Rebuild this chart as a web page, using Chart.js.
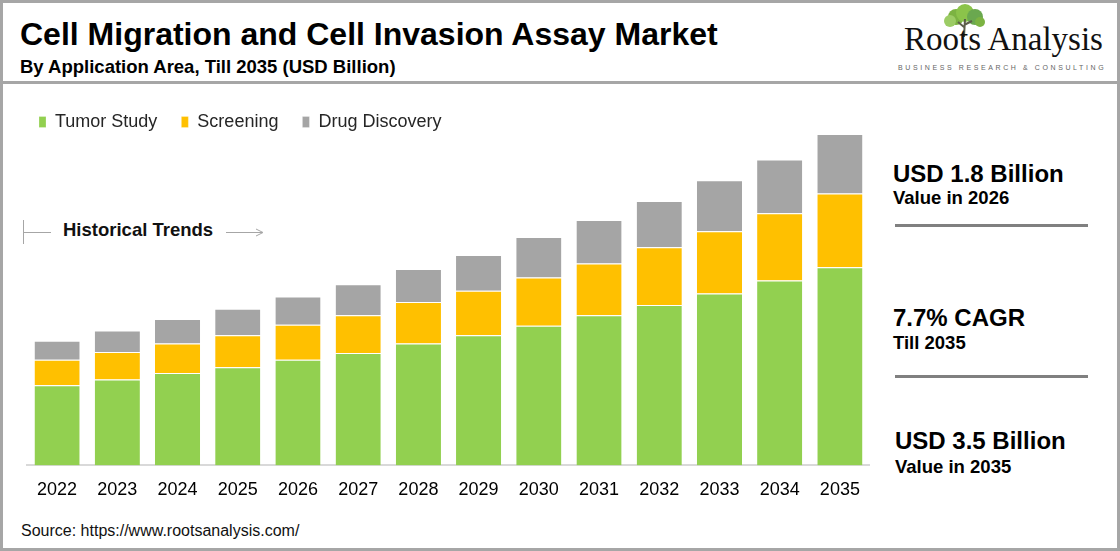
<!DOCTYPE html>
<html>
<head>
<meta charset="utf-8">
<script src="https://cdn.jsdelivr.net/npm/chart.js@4.4.1/dist/chart.umd.min.js"></script>
<style>
  html, body { margin: 0; padding: 0; background: #fff; }
  body { width: 1120px; height: 551px; position: relative; overflow: hidden;
         font-family: "Liberation Sans", Arial, sans-serif; color: #000; }
  .frame { position: absolute; left: 0; top: 0; width: 1114px; height: 545px; border: 3px solid #a6a6a6; }
  .abs { position: absolute; white-space: nowrap; }
  .title { left: 20px; top: 18px; font-size: 32px; line-height: 32px; font-weight: bold; }
  .subtitle { left: 20px; top: 57.5px; font-size: 18.5px; line-height: 18.5px; font-weight: bold; }
  .rule { position: absolute; left: 0; top: 81px; width: 1120px; height: 3px; background: #a6a6a6; }
  .logo { left: 904px; top: 22.5px; font-family: "Liberation Serif", "Times New Roman", serif;
          font-size: 33px; line-height: 33px; color: #111; }
  .tag { left: 898px; top: 64px; font-size: 7px; line-height: 7px; letter-spacing: 2.6px; color: #666; }
  .big { font-size: 24px; line-height: 24px; font-weight: bold; }
  .small { font-size: 18.5px; line-height: 18.5px; font-weight: bold; }
  .sep { position: absolute; left: 895px; width: 193px; height: 3px; background: #808080; }
  .hist { left: 63px; top: 221px; font-size: 18.5px; line-height: 18.5px; font-weight: bold; color: #111; }
  .source { left: 21px; top: 522.5px; font-size: 16px; line-height: 16px; color: #111; }
  #wrap { position: absolute; left: 15px; top: 89px; width: 855px; height: 418px; }
</style>
</head>
<body>
<div class="frame"></div>
<div class="abs title">Cell Migration and Cell Invasion Assay Market</div>
<div class="abs subtitle">By Application Area, Till 2035 (USD Billion)</div>
<div class="rule"></div>

<svg class="abs" style="left:930px;top:3px" width="70" height="40">
  <circle cx="26" cy="14" r="8" fill="#7cb342"/>
  <circle cx="35" cy="10" r="9" fill="#8bc34a"/>
  <circle cx="45" cy="14" r="8" fill="#6aa84f"/>
  <circle cx="20" cy="18" r="6" fill="#9ccc65"/>
  <circle cx="50" cy="19" r="5" fill="#7cb342"/>
  <path d="M35 16 L34 34 M34 24 L28 19 M34 22 L42 18" stroke="#5d5d4a" stroke-width="2" fill="none"/>
</svg>
<div class="abs logo">Roots Analysis</div>
<div class="abs tag">BUSINESS RESEARCH &amp; CONSULTING</div>

<div class="abs big" style="left:893px;top:161.5px">USD 1.8 Billion</div>
<div class="abs small" style="left:893px;top:189px">Value in 2026</div>
<div class="sep" style="top:224px"></div>
<div class="abs big" style="left:893px;top:305.5px">7.7% CAGR</div>
<div class="abs small" style="left:893px;top:333.5px">Till 2035</div>
<div class="sep" style="top:375px"></div>
<div class="abs big" style="left:895px;top:428.5px">USD 3.5 Billion</div>
<div class="abs small" style="left:895px;top:457.5px">Value in 2035</div>

<svg class="abs" style="left:0;top:215px" width="280" height="35">
  <line x1="23.5" y1="5" x2="23.5" y2="29" stroke="#a6a6a6" stroke-width="1"/>
  <line x1="23" y1="17.5" x2="51" y2="17.5" stroke="#a6a6a6" stroke-width="1"/>
  <line x1="226" y1="17.5" x2="262" y2="17.5" stroke="#a6a6a6" stroke-width="1"/>
  <path d="M256 14 L263 17.5 L256 21" stroke="#a6a6a6" stroke-width="1" fill="none"/>
</svg>
<div class="abs hist">Historical Trends</div>

<div id="wrap"><canvas id="chart"></canvas></div>
<div class="abs source">Source: https://www.rootsanalysis.com/</div>

<script>
const years = ['2022', '2023', '2024', '2025', '2026', '2027', '2028', '2029', '2030', '2031', '2032', '2033', '2034', '2035'];
const tumorStudy = [0.85, 0.91, 0.98, 1.04, 1.12, 1.19, 1.29, 1.38, 1.48, 1.59, 1.70, 1.82, 1.96, 2.10];
const screening = [0.27, 0.29, 0.31, 0.34, 0.37, 0.40, 0.44, 0.47, 0.51, 0.55, 0.61, 0.66, 0.71, 0.78];
const drugDiscovery = [0.20, 0.23, 0.26, 0.28, 0.30, 0.33, 0.35, 0.38, 0.43, 0.46, 0.49, 0.54, 0.57, 0.63];

const font = '"Liberation Sans", Arial, sans-serif';

function series(label, data, color) {
  return {
    label: label,
    data: data,
    backgroundColor: color,
    borderColor: '#ffffff',
    borderWidth: { top: 1, left: 0, right: 0, bottom: 0 },
    borderSkipped: false,
    barPercentage: 0.75,
    categoryPercentage: 1.0,
  };
}

// legend sits a bit lower than Chart.js would put it, so trim its box
const legendTrim = {
  id: 'legendTrim',
  beforeInit(chart) {
    const fit = chart.legend.fit;
    chart.legend.fit = function () {
      fit.call(this);
      this.height -= 6;
    };
  },
};

const ctx = document.getElementById('chart').getContext('2d');
new Chart(ctx, {
  type: 'bar',
  data: {
    labels: years,
    datasets: [
      series('Tumor Study', tumorStudy, '#92d050'),
      series('Screening', screening, '#ffc000'),
      series('Drug Discovery', drugDiscovery, '#a5a5a5'),
    ],
  },
  plugins: [legendTrim],
  options: {
    responsive: true,
    maintainAspectRatio: false,
    animation: false,
    layout: { padding: 0 },
    plugins: {
      legend: {
        position: 'top',
        align: 'start',
        labels: {
          boxWidth: 7,
          boxHeight: 11,
          padding: 24,
          color: '#262626',
          font: { family: font, size: 18 },
        },
      },
      tooltip: { enabled: false },
    },
    scales: {
      x: {
        stacked: true,
        grid: { display: false },
        border: { display: true, color: '#d9d9d9', width: 2 },
        ticks: { color: '#000', padding: 6, font: { family: font, size: 18 } },
      },
      y: {
        stacked: true,
        min: 0,
        max: 3.5,
        grid: { display: false },
        border: { display: false },
        ticks: { display: false },
        afterFit: (scale) => { scale.width = 12; },
      },
    },
  },
});
</script>
</body>
</html>
